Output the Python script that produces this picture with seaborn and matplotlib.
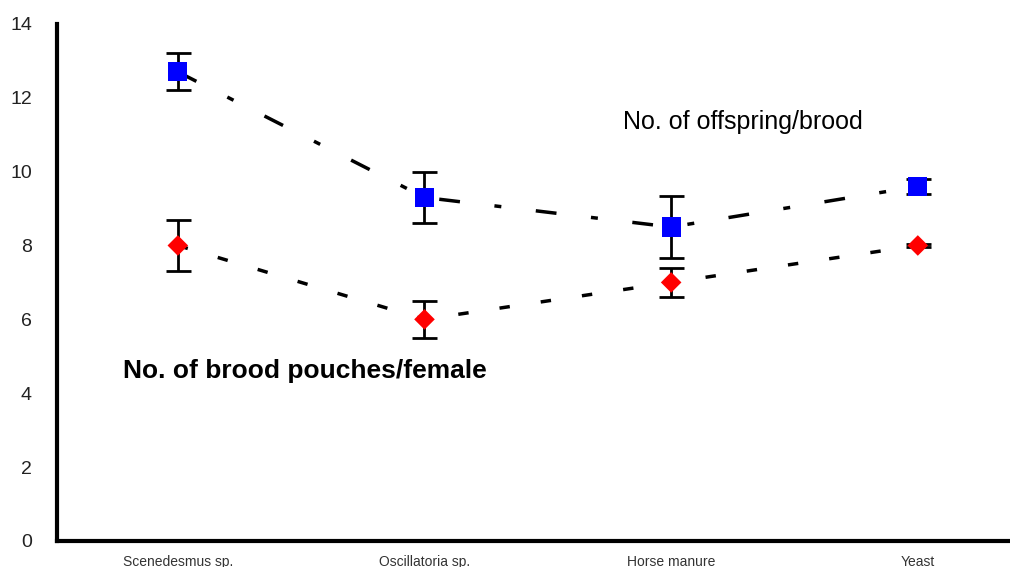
import pandas as pd
import matplotlib
matplotlib.use('Agg')
import matplotlib.pyplot as plt
import seaborn as sns

# --- data ---
foods = ['Scenedesmus sp.', 'Oscillatoria sp.', 'Horse manure', 'Yeast']
offspring = [12.7, 9.3, 8.5, 9.6]
offspring_err = [0.5, 0.7, 0.85, 0.2]
pouches = [8.0, 6.0, 7.0, 8.0]
pouches_err = [0.7, 0.5, 0.4, 0.05]

yticks = [0, 2, 4, 6, 8, 10, 12, 14]

df = pd.DataFrame({'food': foods, 'x': range(len(foods)),
                   'offspring': offspring, 'pouches': pouches})

sns.set_style('white')
plt.rcParams['font.family'] = ['Liberation Sans', 'DejaVu Sans']

fig = plt.figure(figsize=(10.1, 5.67), dpi=100)
ax = fig.add_axes([0.0564, 0.0459, 0.95, 0.912])

# error bars first so the markers sit on top
ax.errorbar(df['x'], df['offspring'], yerr=offspring_err, fmt='none',
            ecolor='black', elinewidth=2, capsize=9, capthick=2, zorder=2)
ax.errorbar(df['x'], df['pouches'], yerr=pouches_err, fmt='none',
            ecolor='black', elinewidth=2, capsize=9, capthick=2, zorder=2)

# connecting lines
sns.lineplot(data=df, x='x', y='offspring', color='black', lw=2.5,
             dashes=False, ax=ax, zorder=1)
sns.lineplot(data=df, x='x', y='pouches', color='black', lw=2.5,
             dashes=False, ax=ax, zorder=1)
ax.lines[-2].set_dashes([6, 10, 2, 10])
ax.lines[-1].set_dashes([3, 9])

# markers
sns.scatterplot(data=df, x='x', y='offspring', marker='s', s=190,
                color='#0000ff', edgecolor='none', ax=ax, zorder=3)
sns.scatterplot(data=df, x='x', y='pouches', marker='D', s=110,
                color='#ff0000', edgecolor='none', ax=ax, zorder=3)

ax.text(2.29, 11.35, 'No. of offspring/brood', fontsize=18,
        ha='center', va='center', color='black')
ax.text(0.515, 4.6, 'No. of brood pouches/female', fontsize=19,
        fontweight='bold', ha='center', va='center', color='black')

ax.set_xlim(-0.49, 3.40)
ax.set_ylim(0, 14)
ax.set_yticks(yticks)
ax.set_xticks(df['x'])
ax.set_xticklabels(foods, fontsize=10, color='#333333')
ax.tick_params(axis='y', labelsize=14, length=0, pad=18, labelcolor='#222222')
ax.tick_params(axis='x', length=0, pad=10)
ax.set_xlabel('')
ax.set_ylabel('')

for side in ['top', 'right']:
    ax.spines[side].set_visible(False)
for side in ['left', 'bottom']:
    ax.spines[side].set_linewidth(3)
    ax.spines[side].set_color('black')

fig.savefig('out.png', dpi=100)
